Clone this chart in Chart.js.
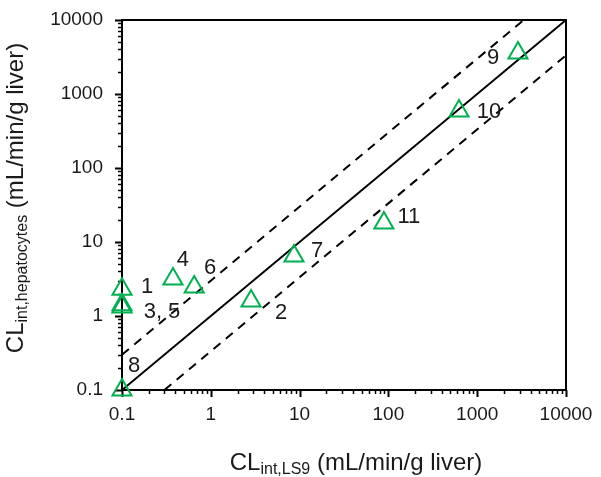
<!DOCTYPE html>
<html>
<head>
<meta charset="utf-8">
<script src="https://cdn.jsdelivr.net/npm/chart.js@4/dist/chart.umd.min.js"></script>
<style>
  html, body { margin: 0; padding: 0; background: #fff; }
</style>
</head>
<body>
<canvas id="myChart" width="601" height="477"></canvas>
<script>
// compounds 1..11
const compoundIds = ["1", "2", "3", "4", "5", "6", "7", "8", "9", "10", "11"];
const clLS9 = [0.1, 2.84, 0.1, 0.375, 0.1, 0.65, 8.65, 0.1, 2880, 624, 89];
const clHepatocytes = [2.3, 1.6, 1.42, 3.16, 1.32, 2.47, 6.47, 0.1, 3580, 589, 18.1];
const pointLabels = ["1", "2", "3, 5", "4", "", "6", "7", "8", "9", "10", "11"];

// line of unity and 3-fold lines
const unityX = [0.1, 10000];
const unityY = [0.1, 10000];
const upperX = [0.1, 3333];
const upperY = [0.3, 10000];
const lowerX = [0.3, 10000];
const lowerY = [0.1, 3333];

const tickValues = [0.1, 1, 10, 100, 1000, 10000];
const tickLabels = ["0.1", "1", "10", "100", "1000", "10000"];

// label offset from the point, in px
const labelOffsets = [[25, -2], [30, 12], [40, 7], [10, -19], [0, 0], [16, -19], [23, -5], [12, -24], [-25, 5], [30, 1], [25, -6]];

const FONT = "'Liberation Sans', Arial, sans-serif";
const GREEN = "#00B050";

const toPts = (xs, ys) => xs.map((x, i) => ({ x: x, y: ys[i] }));

const axisDecor = {
  id: "axisDecor",
  beforeDatasetsDraw(chart) {
    const ctx = chart.ctx;
    const a = chart.chartArea;
    const xs = chart.scales.x, ys = chart.scales.y;
    ctx.save();
    ctx.strokeStyle = "#000";
    // tick marks, major at decades and minor at 2..9
    tickValues.forEach((dec, i) => {
      const mults = i < tickValues.length - 1 ? [1, 2, 3, 4, 5, 6, 7, 8, 9] : [1];
      mults.forEach((m) => {
        const v = dec * m;
        const len = m === 1 ? 7 : 4;
        ctx.lineWidth = m === 1 ? 2 : 1.5;
        const px = Math.round(xs.getPixelForValue(v)) + 0.5;
        ctx.beginPath();
        ctx.moveTo(px, a.bottom);
        ctx.lineTo(px, a.bottom + len);
        ctx.stroke();
        const py = Math.round(ys.getPixelForValue(v)) + 0.5;
        ctx.beginPath();
        ctx.moveTo(a.left, py);
        ctx.lineTo(a.left - len, py);
        ctx.stroke();
      });
    });
    ctx.lineWidth = 2;
    ctx.strokeRect(a.left, a.top, a.right - a.left, a.bottom - a.top);
    ctx.restore();
  },
  afterDraw(chart) {
    const ctx = chart.ctx;
    const meta = chart.getDatasetMeta(0);
    ctx.save();
    ctx.fillStyle = "#1a1a1a";
    ctx.font = "22px " + FONT;
    ctx.textAlign = "center";
    ctx.textBaseline = "middle";
    meta.data.forEach((pt, i) => {
      if (!pointLabels[i]) return;
      const off = labelOffsets[i];
      ctx.fillText(pointLabels[i], pt.x + off[0], pt.y + off[1]);
    });
    ctx.restore();
    drawTitle(ctx, "CL", "int,LS9", " (mL/min/g liver)", 356, 470, false);
    drawTitle(ctx, "CL", "int,hepatocytes", " (mL/min/g liver)", 23, 198, true);
  }
};

function drawTitle(ctx, main, sub, rest, x, y, rotate) {
  const big = "24px " + FONT, small = "16px " + FONT;
  ctx.save();
  ctx.translate(x, y);
  if (rotate) ctx.rotate(-Math.PI / 2);
  ctx.fillStyle = "#1a1a1a";
  ctx.textAlign = "left";
  ctx.textBaseline = "alphabetic";
  ctx.font = big;
  const w1 = ctx.measureText(main).width;
  const w3 = ctx.measureText(rest).width;
  ctx.font = small;
  const w2 = ctx.measureText(sub).width;
  let cx = -(w1 + w2 + w3) / 2;
  ctx.font = big;
  ctx.fillText(main, cx, 0);
  cx += w1;
  ctx.font = small;
  ctx.fillText(sub, cx, 4);
  cx += w2;
  ctx.font = big;
  ctx.fillText(rest, cx, 0);
  ctx.restore();
}

const decadeTicks = (scale) => {
  scale.ticks = tickValues.map((v) => ({ value: v }));
};

const config = {
  type: "scatter",
  data: {
    datasets: [
      {
        data: toPts(clLS9, clHepatocytes),
        pointStyle: "triangle",
        pointRadius: 11,
        pointHoverRadius: 11,
        pointBorderWidth: 2,
        borderColor: GREEN,
        backgroundColor: "rgba(0,0,0,0)",
        clip: false,
      },
      {
        data: toPts(unityX, unityY),
        showLine: true,
        borderColor: "#000",
        borderWidth: 2,
        pointRadius: 0,
      },
      {
        data: toPts(upperX, upperY),
        showLine: true,
        borderColor: "#000",
        borderWidth: 2,
        borderDash: [9, 7],
        pointRadius: 0,
      },
      {
        data: toPts(lowerX, lowerY),
        showLine: true,
        borderColor: "#000",
        borderWidth: 2,
        borderDash: [9, 7],
        pointRadius: 0,
      },
    ],
  },
  options: {
    responsive: false,
    animation: false,
    layout: { padding: { left: 22, right: 35, top: 20, bottom: 0 } },
    scales: {
      x: {
        type: "logarithmic",
        min: 0.1,
        max: 10000,
        afterBuildTicks: decadeTicks,
        afterFit: (scale) => {
          scale.height = 87;
          scale.paddingLeft = 0;
          scale.paddingRight = 0;
        },
        grid: { display: false, drawTicks: false },
        border: { display: false },
        ticks: {
          autoSkip: false,
          maxRotation: 0,
          padding: 13,
          color: "#1a1a1a",
          font: { family: FONT, size: 19 },
          callback: (v) => tickLabels[tickValues.indexOf(v)],
        },
      },
      y: {
        type: "logarithmic",
        min: 0.1,
        max: 10000,
        afterBuildTicks: decadeTicks,
        afterFit: (scale) => {
          scale.width = 100;
          scale.paddingTop = 0;
          scale.paddingBottom = 0;
        },
        grid: { display: false, drawTicks: false },
        border: { display: false },
        ticks: {
          autoSkip: false,
          padding: 19,
          color: "#1a1a1a",
          font: { family: FONT, size: 19 },
          callback: (v) => tickLabels[tickValues.indexOf(v)],
        },
      },
    },
    plugins: {
      legend: { display: false },
      tooltip: { enabled: false },
    },
  },
  plugins: [axisDecor],
};

const myChart = new Chart(document.getElementById("myChart"), config);
</script>
</body>
</html>
